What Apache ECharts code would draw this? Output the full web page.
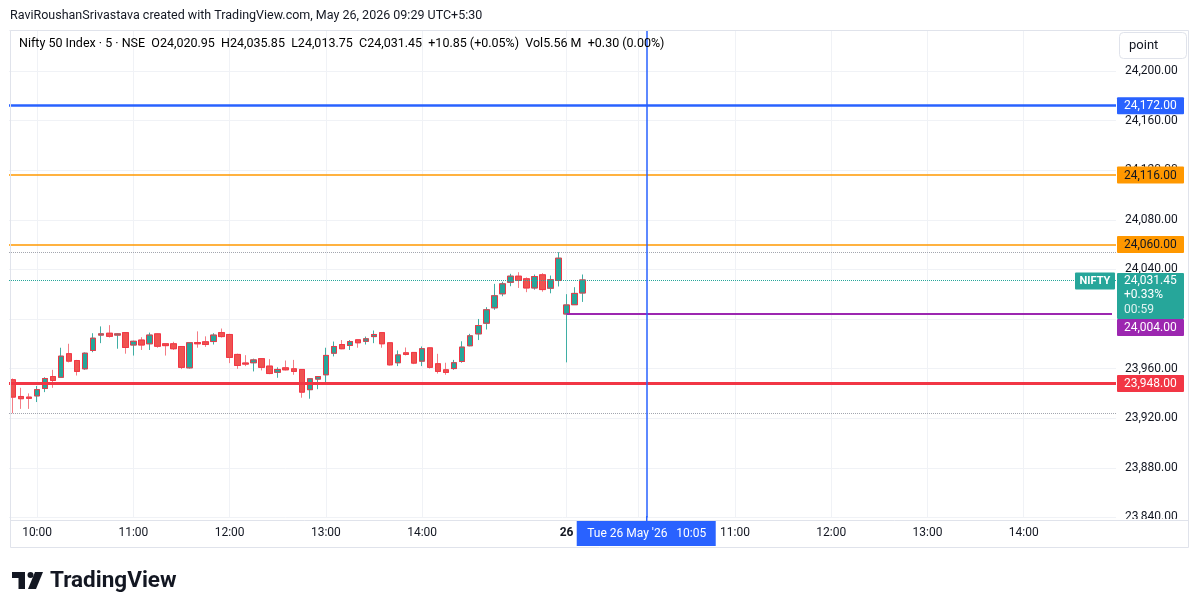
<!DOCTYPE html>
<html>
<head>
<meta charset="utf-8">
<script src="https://cdn.jsdelivr.net/npm/echarts@6/dist/echarts.min.js"></script>
<style>
html,body{margin:0;padding:0;background:#fff;}
#c{width:1200px;height:611px;}
</style>
</head>
<body>
<div id="c"></div>
<script>
// ---------- DATA ----------
// 5-minute slots: previous session (25 May) from 09:45, current session (26 May) from 09:15
function slots(day, h, m, count) {
  const out = [];
  for (let i = 0; i < count; i++) {
    const t = h * 60 + m + i * 5;
    const hh = String(Math.floor(t / 60)).padStart(2, '0');
    const mm = String(t % 60).padStart(2, '0');
    out.push(day + ' ' + hh + ':' + mm);
  }
  return out;
}
const categories = slots('25', 9, 45, 69).concat(slots('26', 9, 15, 69));

const openV = [23951,23937.5,23937,23938,23944,23953.6,23953,23972,23966.5,23959.8,23974.6,23987,23988.5,23987,23989,
  23979,23983,23980,23988,23980,23980,23977.8,23960.6,23981,23981.6,23981.8,23989,23987.5,23971.4,
  23964.5,23964.7,23968,23962,23957,23960.6,23959.8,23959.3,23943,23951.5,23955,23972.4,23979.4,23978.6,23983.2,
  23982,23985.8,23989,23980.8,23964.7,23972.7,23973,23966,23976.7,23963.9,23959,23960,23965.7,23978.4,
  23988,23996.6,24009,24020.3,24029.6,24034.5,24032.4,24025,24035.6,24024.8,24031,
  24004,24011.5,24020.95];
const highV = [23952,23944.5,23940,23946,23953,23959,23976.8,23980,23967,23973,23988.5,23994,23995,23988.5,23989.5,
  23982.5,23985.3,23989,23988.5,23980,23981.6,23978,23981,23990,23986,23988.5,23992.3,23988,23972,
  23970.8,23968,23968.5,23967.6,23961,23966.5,23967,23959.5,23952,23954,23976.8,23981.8,23983,23983,23983.5,
  23985.8,23990.7,23989.5,23981,23974.6,23977,23973.3,23977.8,23977,23971.9,23964.7,23967,23982,23988,
  24000,24009.5,24028.3,24030,24036.4,24037.7,24033.5,24035.8,24036.9,24035,24053.8,
  24020,24025.6,24035.85];
const lowV = [23924,23927.5,23927.5,23933,23941,23944.5,23953,23965,23954.4,23959,23973.2,23980.5,23985,23976,23972,
  23970.5,23975,23975,23976.8,23970.5,23975,23959.6,23960,23976.8,23977.5,23979.4,23985,23964.4,23959.8,
  23962,23957.7,23958.5,23955.5,23952.6,23958.5,23955,23936.5,23935.7,23943.4,23947.8,23969.8,23975.6,23975,23976.8,
  23979.4,23980.5,23976.8,23962.5,23962,23970.6,23963.6,23962,23960,23956,23955,23959,23964.7,23978,
  23983,23991.5,24007.4,24018.3,24026.4,24025,24021.6,24023.6,24022,24020.7,24026.2,
  23965,24011.5,24013.75];
const closeV = [23937,23935.7,23936,23943,23952,23950.4,23970,23966,23957.7,23972.4,23984.5,23988,23986,23988,23977,
  23982,23979,23987,23978,23978.5,23976,23961,23980.8,23980,23979.4,23987,23985.8,23969,23962.5,
  23963.6,23967,23961,23956,23959.3,23959,23957.7,23941,23951.8,23953.6,23970.6,23977.8,23976,23981.8,23980.8,
  23984,23987.5,23980,23963,23971,23971.4,23964.4,23976,23961,23957.7,23956.9,23964.7,23977.3,23986.4,
  23994.7,24007.4,24018.7,24028.3,24034.5,24031,24025,24034.2,24023.7,24031.6,24049,
  24011.3,24020.6,24031.45];

// horizontal drawn levels
const levelValues = [24172, 24116, 24060, 23948];
const levelLabels = ['24,172.00', '24,116.00', '24,060.00', '23,948.00'];
const dayOpenLevel = 24004;          // purple ray from session open
const dayOpenLabel = '24,004.00';
const sessionHigh = 24053.8, sessionLow = 23924;   // gray dotted
const lastPrice = 24031.45;
const lastBadge = ['24,031.45', '+0.33%', '00:59'];
const crosshairCat = '26 10:05';
const crosshairText = "Tue 26 May '26   10:05";

// x tick labels
const tickCats = ['25 10:00','25 11:00','25 12:00','25 13:00','25 14:00','26 09:15','26 11:00','26 12:00','26 13:00','26 14:00'];
const tickText = ['10:00','11:00','12:00','13:00','14:00','26','11:00','12:00','13:00','14:00'];
const vGridCats = ['25 10:00','25 11:00','25 12:00','25 13:00','25 14:00','26 09:15','26 10:00','26 11:00','26 12:00','26 13:00','26 14:00'];

// y axis
const yMin = 23840, yMax = 24233, yStep = 40;

// header
const headerTitle = 'RaviRoushanSrivastava created with TradingView.com, May 26, 2026 09:29 UTC+5:30';
const legendParts = [
  ['l','Nifty 50 Index · 5 · NSE'],['s','  '],
  ['l','O'],['v','24,020.95'],['s','  '],
  ['l','H'],['v','24,035.85'],['s','  '],
  ['l','L'],['v','24,013.75'],['s','  '],
  ['l','C'],['v','24,031.45'],['s','  '],
  ['v','+10.85 (+0.05%)'],['s','  '],
  ['l','Vol'],['v','5.56 M'],['s','  '],
  ['v','+0.30 (0.00%)']
];

// ---------- CHART ----------
const FONT = 'Roboto, "Open Sans", sans-serif';
const fmt = v => Number(v).toLocaleString('en-US', {minimumFractionDigits: 2, maximumFractionDigits: 2});

const fullData = openV.map((o, i) => [o, closeV[i], lowV[i], highV[i]]);
const bodyData = openV.map((o, i) => [o, closeV[i], Math.min(o, closeV[i]), Math.max(o, closeV[i])]);

const chart = echarts.init(document.getElementById('c'), null, {renderer: 'canvas'});

const hLine = (v, color, width, type) => ({yAxis: v, lineStyle: {color: color, width: width, type: type || 'solid'}});
const levelColors = ['#2962ff', '#ff9800', '#ff9800', '#f23645'];
const levelWidths = [2.5, 1.6, 1.6, 3];

const option = {
  animation: false,
  backgroundColor: '#ffffff',
  grid: {left: 9, right: 84, top: 30, bottom: 93.6, containLabel: false},
  xAxis: {
    type: 'category', data: categories, boundaryGap: true,
    axisLine: {show: false}, axisTick: {show: false}, splitLine: {show: false},
    axisLabel: {
      interval: (i, v) => tickCats.indexOf(v) >= 0,
      formatter: (v) => {
        const k = tickCats.indexOf(v);
        if (k < 0) return '';
        return v === '26 09:15' ? '{b|' + tickText[k] + '}' : tickText[k];
      },
      color: '#131722', fontSize: 12, fontFamily: FONT, margin: 10,
      rich: {b: {fontWeight: 'bold', fontSize: 12, color: '#131722', fontFamily: FONT}}
    }
  },
  yAxis: {
    type: 'value', position: 'right', min: yMin, max: yMax, interval: yStep, scale: true,
    axisLine: {show: false}, axisTick: {show: false},
    splitLine: {lineStyle: {color: '#f0f2f6', width: 1}},
    axisLabel: {showMaxLabel: false, margin: 9, color: '#131722', fontSize: 12, fontFamily: FONT, formatter: v => fmt(v)}
  },
  series: [
    {
      type: 'line', data: [], silent: true,
      markLine: {
        silent: true, z: 1, symbol: ['none', 'none'], animation: false, label: {show: false},
        lineStyle: {color: '#f0f2f6', width: 1, type: 'solid'},
        data: vGridCats.map(c => ({xAxis: c}))
      }
    },
    {
      type: 'candlestick', data: fullData, barWidth: 6, z: 2, silent: true,
      itemStyle: {color: '#26a69a', color0: '#ef5350', borderColor: '#3faea4', borderColor0: '#f47c85', borderWidth: 1}
    },
    {
      type: 'candlestick', data: bodyData, barWidth: 6, z: 3, silent: true,
      itemStyle: {color: '#26a69a', color0: '#ef5350', borderColor: '#f23645', borderColor0: '#f23645', borderWidth: 1},
      markLine: {
        silent: true, z: 5, symbol: ['none', 'none'], animation: false, label: {show: false},
        lineStyle: {type: 'solid'},
        data: [
          hLine(sessionHigh, '#a3a6af', 1, 'dotted'),
          hLine(sessionLow, '#a3a6af', 1, 'dotted'),
          hLine(lastPrice, '#26a69a', 1, 'dotted'),
          ...levelValues.map((v, i) => hLine(v, levelColors[i], levelWidths[i])),
          [{coord: ['26 09:15', dayOpenLevel], lineStyle: {color: '#9c27b0', width: 2, type: 'solid'}},
           {coord: [categories[categories.length - 1], dayOpenLevel], lineStyle: {color: '#9c27b0', width: 2, type: 'solid'}}],
          {xAxis: crosshairCat, lineStyle: {color: '#2962ff', width: 1.5, type: 'solid'}}
        ]
      }
    }
  ]
};
chart.setOption(option);

// ---------- OVERLAY LABELS (positioned via the chart's own scales) ----------
const py = v => chart.convertToPixel({yAxisIndex: 0}, v);
const px = c => chart.convertToPixel({xAxisIndex: 0}, c);
const g = [];
const Z = 100;

// frame
g.push({type: 'rect', z: Z - 5, shape: {x: 1117, y: 519, width: 71, height: 28}, style: {fill: '#ffffff'}});
g.push({type: 'line', z: Z, shape: {x1: 10, y1: 520.5, x2: 1189, y2: 520.5}, style: {stroke: '#e0e3eb', lineWidth: 1}});
g.push({type: 'rect', z: Z, shape: {x: 10.5, y: 30.5, width: 1178, height: 517}, style: {fill: 'none', stroke: '#e0e3eb', lineWidth: 1}});

// header
g.push({type: 'text', z: Z, left: 10, top: 9, style: {text: headerTitle, fontSize: 12.5, fontFamily: FONT, fill: '#131722'}});
const rich = {
  l: {fontSize: 12.5, fontFamily: FONT, color: '#131722'},
  v: {fontSize: 12.5, fontFamily: FONT, color: '#f23645'},
  s: {fontSize: 12.5, fontFamily: FONT, color: '#131722'}
};
g.push({type: 'text', z: Z, left: 19, top: 37, style: {text: legendParts.map(p => '{' + p[0] + '|' + p[1] + '}').join(''), rich: rich}});

// "point" box
g.push({type: 'rect', z: Z, shape: {x: 1119.5, y: 32.5, width: 67, height: 26, r: 4}, style: {fill: '#ffffff', stroke: '#e0e3eb', lineWidth: 1}});
g.push({type: 'text', z: Z, x: 1129, y: 45.5, style: {text: 'point', fontSize: 13, fontFamily: FONT, fill: '#131722', verticalAlign: 'middle'}});

// level badges
const badge = (yc, txt, bg, fg) => {
  g.push({type: 'rect', z: Z, shape: {x: 1117, y: yc - 8.5, width: 67, height: 17, r: 1}, style: {fill: bg}});
  g.push({type: 'text', z: Z + 1, x: 1124, y: yc + 0.5, style: {text: txt, fontSize: 12, fontFamily: FONT, fill: fg, verticalAlign: 'middle'}});
};
const badgeFg = ['#ffffff', '#131722', '#131722', '#ffffff'];
levelValues.forEach((v, i) => badge(py(v), levelLabels[i], levelColors[i], badgeFg[i]));

// last price badge
const ly = py(lastPrice);
const tealTop = ly - 7;
g.push({type: 'rect', z: Z, shape: {x: 1117, y: tealTop, width: 67, height: 46, r: 1}, style: {fill: '#26a69a'}});
lastBadge.forEach((t, i) => g.push({type: 'text', z: Z + 1, x: 1124, y: tealTop + 8 + i * 14.5,
  style: {text: t, fontSize: 12, fontFamily: FONT, fill: '#ffffff', verticalAlign: 'middle', opacity: i === 2 ? 0.85 : 1}}));
g.push({type: 'rect', z: Z, shape: {x: 1075, y: ly - 7.5, width: 40, height: 17, r: 1}, style: {fill: '#26a69a'}});
g.push({type: 'text', z: Z + 1, x: 1095, y: ly + 1, style: {text: 'NIFTY', fontSize: 11, fontWeight: 'bold', fontFamily: FONT, fill: '#ffffff', align: 'center', verticalAlign: 'middle'}});

// purple badge, pushed below the last-price badge
const pyOpen = Math.max(py(dayOpenLevel), tealTop + 46 + 8.5);
badge(pyOpen, dayOpenLabel, '#9c27b0', '#ffffff');

// crosshair time label
const cx = px(crosshairCat);
g.push({type: 'line', z: Z, shape: {x1: cx, y1: 516, x2: cx, y2: 522}, style: {stroke: '#2962ff', lineWidth: 1.5}});
g.push({type: 'rect', z: Z, shape: {x: cx - 70, y: 521, width: 139, height: 25}, style: {fill: '#2962ff'}});
g.push({type: 'text', z: Z + 1, x: cx, y: 534, style: {text: crosshairText, fontSize: 12, fontFamily: FONT, fill: '#ffffff', align: 'center', verticalAlign: 'middle'}});

// TradingView logo
g.push({type: 'rect', z: Z, shape: {x: 12, y: 572, width: 13, height: 6}, style: {fill: '#131722'}});
g.push({type: 'rect', z: Z, shape: {x: 18.5, y: 572, width: 6.5, height: 17}, style: {fill: '#131722'}});
g.push({type: 'circle', z: Z, shape: {cx: 30.5, cy: 575, r: 3}, style: {fill: '#131722'}});
g.push({type: 'polygon', z: Z, shape: {points: [[35, 572], [43, 572], [36, 589], [28, 589]]}, style: {fill: '#131722'}});
g.push({type: 'text', z: Z, x: 50, y: 581, style: {text: 'TradingView', fontSize: 22.5, fontWeight: 'bold', fontFamily: FONT, fill: '#131722', verticalAlign: 'middle'}});

chart.setOption({graphic: g});
</script>
</body>
</html>
